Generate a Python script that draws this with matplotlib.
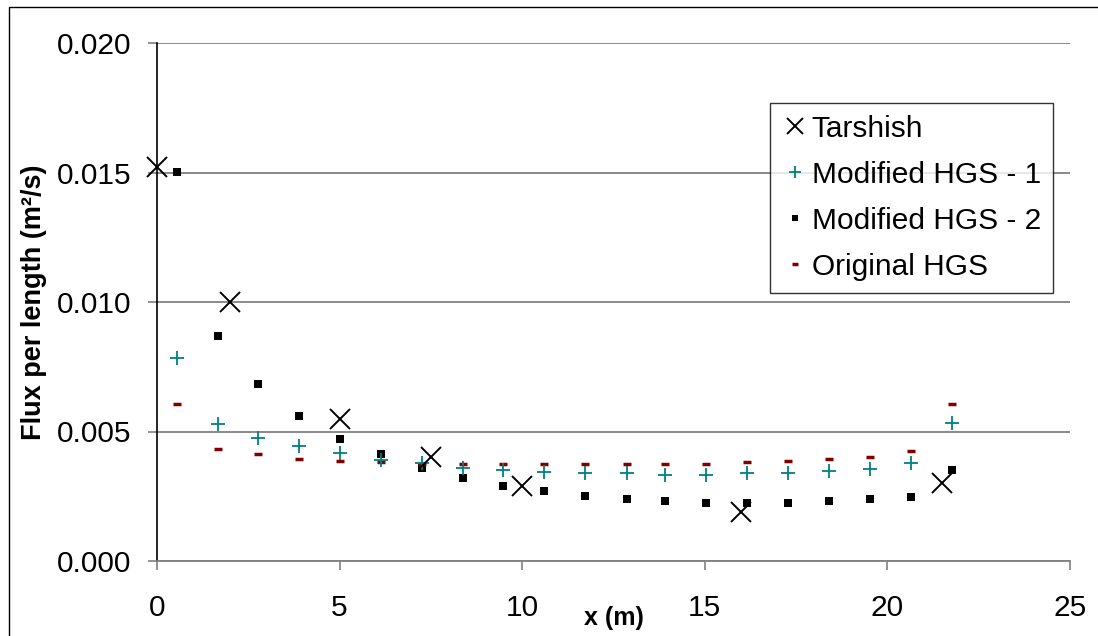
import matplotlib
matplotlib.use("Agg")
import matplotlib.pyplot as plt
from matplotlib.patches import Rectangle
from matplotlib.ticker import FormatStrFormatter

plt.rcParams['font.family'] = ['Liberation Sans', 'DejaVu Sans']

# Tarshish reference values
tarshish_x = [0, 2, 5, 7.5, 10, 16, 21.5]
tarshish_y = [0.0152, 0.0100, 0.0055, 0.0040, 0.0029, 0.0019, 0.0030]

# cell centres used by the HGS runs
hgs_x = [0.54, 1.66, 2.77, 3.90, 5.01, 6.13, 7.25, 8.37, 9.48, 10.61,
         11.73, 12.86, 13.92, 15.04, 16.16, 17.29, 18.40, 19.52, 20.64, 21.76]
mod1_y = [0.00782, 0.00528, 0.00474, 0.00445, 0.00416, 0.00390, 0.00377, 0.00360,
          0.00351, 0.00345, 0.00338, 0.00338, 0.00331, 0.00331, 0.00338, 0.00338,
          0.00347, 0.00354, 0.00377, 0.00534]
mod2_y = [0.01501, 0.00869, 0.00682, 0.00561, 0.00471, 0.00412, 0.00358, 0.00322,
          0.00289, 0.00269, 0.00252, 0.00238, 0.00230, 0.00223, 0.00223, 0.00223,
          0.00230, 0.00238, 0.00246, 0.00350]
orig_y = [0.00606, 0.00434, 0.00412, 0.00395, 0.00387, 0.00381, 0.00373, 0.00373,
          0.00373, 0.00373, 0.00373, 0.00373, 0.00373, 0.00373, 0.00381, 0.00387,
          0.00395, 0.00403, 0.00426, 0.00606]

fig = plt.figure(figsize=(10.98, 6.36), dpi=100)
ax = fig.add_axes([157 / 1098, 1 - 561 / 636, (1070 - 157) / 1098, (561 - 43) / 636])

ax.plot(tarshish_x, tarshish_y, linestyle='none', marker='x', ms=15, mew=1.4,
        color='black', label='Tarshish', clip_on=False, zorder=5)
ax.plot(hgs_x, mod1_y, linestyle='none', marker='+', ms=10, mew=1.3,
        color='#008080', label='Modified HGS - 1', clip_on=False, zorder=4)
ax.plot(hgs_x, mod2_y, linestyle='none', marker='s', ms=6, mew=0,
        color='black', label='Modified HGS - 2', clip_on=False, zorder=3)
ax.plot(hgs_x, orig_y, linestyle='none', marker='_', ms=6, mew=2.5,
        color='#800000', label='Original HGS', clip_on=False, zorder=3)

ax.set_xlim(0, 25)
ax.set_ylim(0, 0.020)
ax.set_xticks([0, 5, 10, 15, 20, 25])
ax.set_yticks([0, 0.005, 0.010, 0.015, 0.020])
ax.yaxis.set_major_formatter(FormatStrFormatter('%.3f'))

ax.grid(axis='y', color='#808080', linewidth=1.3)
ax.set_axisbelow(True)
for s in ['top', 'right']:
    ax.spines[s].set_visible(False)
ax.spines['left'].set_color('black')
ax.spines['left'].set_linewidth(1.2)
ax.spines['bottom'].set_color('#808080')
ax.spines['bottom'].set_linewidth(1.3)

ax.tick_params(axis='x', direction='out', length=6.5, width=1.2, color='#808080',
               labelsize=21.5, pad=17)
ax.tick_params(axis='y', direction='out', length=6.5, width=1.2, color='#808080',
               labelsize=21.5, pad=12)

ax.set_xlabel('x (m)', fontsize=18, fontweight='bold')
ax.xaxis.set_label_coords(0.5, -0.087)
ax.set_ylabel('Flux per length (m²/s)', fontsize=19.5, fontweight='bold')
ax.yaxis.set_label_coords(-0.12, 0.5)

leg = ax.legend(loc='upper left', bbox_to_anchor=(770 / 1098, 1 - 103 / 636),
                bbox_transform=fig.transFigure, fontsize=21.5, frameon=True,
                fancybox=False, borderpad=0.4, labelspacing=0.6,
                handlelength=0.85, handletextpad=0.15, borderaxespad=0, markerscale=0.8)
leg.get_frame().set_edgecolor('black')
leg.get_frame().set_linewidth(1.0)

fig.patches.append(Rectangle((9 / 1098, -0.05), 1.1, 1 - 7 / 636 + 0.05,
                             transform=fig.transFigure, fill=False,
                             edgecolor='black', linewidth=1.0))

fig.savefig('out.png', dpi=100)
